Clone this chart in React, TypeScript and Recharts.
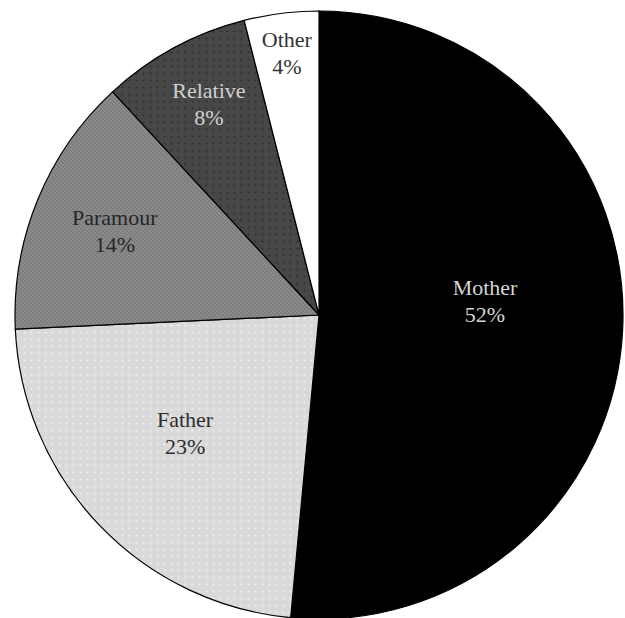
import React from "react";
import { PieChart, Pie, Cell } from "recharts";

// Perpetrator relationship shares (percent)
const categories = ["Mother", "Father", "Paramour", "Relative", "Other"];
const shares = [52, 23, 14, 8, 4];

const data = categories.map((name, i) => ({ name, value: shares[i] }));

// Fill and label ink for each slice
const fills: Record<string, string> = {
  Mother: "#000000",
  Father: "url(#dotsLight)",
  Paramour: "url(#checkMid)",
  Relative: "url(#dotsDark)",
  Other: "#ffffff",
};
const inks: Record<string, string> = {
  Mother: "#d4d4d4",
  Father: "#2e2e2e",
  Paramour: "#262626",
  Relative: "#d0d0d0",
  Other: "#333333",
};
// Label placement: fraction of the radius and an angular nudge (degrees)
const labelPlacement: Record<string, { r: number; shift: number }> = {
  Mother: { r: 0.55, shift: 9.5 },
  Father: { r: 0.574, shift: -3.8 },
  Paramour: { r: 0.734, shift: -1.5 },
  Relative: { r: 0.8, shift: -1.6 },
  Other: { r: 0.888, shift: -0.3 },
};

const RAD = Math.PI / 180;

const renderLabel = (props: any) => {
  const { cx, cy, midAngle, outerRadius, value } = props;
  const name: string = props.payload?.name ?? props.name;
  const place = labelPlacement[name] ?? { r: 0.6, shift: 0 };
  const a = (midAngle + place.shift) * RAD;
  const r = outerRadius * place.r;
  const x = cx + r * Math.cos(a);
  const y = cy - r * Math.sin(a);
  return (
    <g key={`label-${name}`} fontFamily="Liberation Serif" fontSize={22}>
      <text x={x} y={y} textAnchor="middle" fill={inks[name]} fontFamily="Liberation Serif" fontSize={22}>
        {name}
      </text>
      <text x={x} y={y + 27} textAnchor="middle" fill={inks[name]} fontFamily="Liberation Serif" fontSize={22}>
        {`${value}%`}
      </text>
    </g>
  );
};

export default function App() {
  return (
    <div style={{ position: "absolute", left: 0, top: 0, background: "#fff" }}>
      <PieChart
        width={625}
        height={618}
        margin={{ top: 0, right: 0, bottom: 0, left: 0 }}
        style={{ fontFamily: "Liberation Serif" }}
      >
        <defs>
          <pattern id="dotsLight" width="7" height="7" patternUnits="userSpaceOnUse">
            <rect width="7" height="7" fill="#d9d9d9" />
            <circle cx="3.5" cy="3.5" r="1.1" fill="#efefef" />
          </pattern>
          <pattern id="checkMid" width="4" height="4" patternUnits="userSpaceOnUse">
            <rect width="4" height="4" fill="#8a8a8a" />
            <rect width="2" height="2" fill="#7e7e7e" />
            <rect x="2" y="2" width="2" height="2" fill="#7e7e7e" />
          </pattern>
          <pattern id="dotsDark" width="7" height="7" patternUnits="userSpaceOnUse">
            <rect width="7" height="7" fill="#474747" />
            <circle cx="3.5" cy="3.5" r="1.1" fill="#2f2f2f" />
          </pattern>
        </defs>
        <Pie
          data={data}
          dataKey="value"
          nameKey="name"
          cx={319}
          cy={315}
          outerRadius={304}
          startAngle={90}
          endAngle={-270}
          stroke="#000"
          strokeWidth={1.2}
          label={renderLabel}
          labelLine={false}
          isAnimationActive={false}
        >
          {data.map((d) => (
            <Cell key={d.name} fill={fills[d.name]} />
          ))}
        </Pie>
      </PieChart>
    </div>
  );
}
